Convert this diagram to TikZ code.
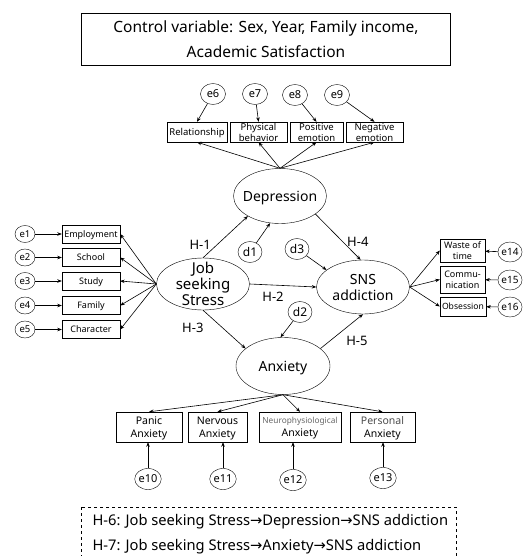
\documentclass[tikz,border=0pt]{standalone}
\usepackage{fontspec}
\setmainfont{Noto Sans}
\newfontfamily\arrowfont{DejaVu Sans}
\usetikzlibrary{shapes.geometric,arrows.meta}

\begin{document}
\begin{tikzpicture}[
            x = 1pt, y = -1pt,
            every node/.style={text depth=0pt},
            latent/.style={ellipse, draw, inner sep=0pt, minimum width=93pt, minimum height=55pt},
            lbl/.style={align=center, font=\fontsize{14}{16}\selectfont},
            obs/.style={rectangle, draw, inner sep=0pt, minimum height=20pt, align=center, font=\fontsize{9.5}{11}\selectfont},
            err/.style={ellipse, draw, inner sep=0pt, minimum width=25pt, minimum height=21pt, font=\fontsize{11}{11}\selectfont},
            line/.style={line width=.6pt, -{Stealth[length=4.5pt, width=3.5pt]}},
            hyp/.style={font=\fontsize{13}{13}\selectfont},
            ]

        \useasboundingbox (0,0) rectangle (526,556);

        \node[draw, minimum width=369pt, minimum height=52pt, align=center, font=\fontsize{15.5}{25}\selectfont] (ctrl) at (266,39) {Control variable: Sex, Year, Family income,\\Academic Satisfaction};

        % latent variables
        \node[latent, label={[lbl]center:Depression}] (dep) at (280,196) {};
        \node[latent, minimum height=52pt, label={[lbl, font=\fontsize{15}{16}\selectfont]center:Job\\seeking\\Stress}] (jss) at (203,284) {};
        \node[latent, minimum height=54pt, label={[lbl]center:SNS\\addiction}] (sns) at (363,287) {};
        \node[latent, minimum width=94pt, minimum height=57pt, label={[lbl]center:Anxiety}] (anx) at (283,366) {};

        \node[err, minimum width=24pt, font=\fontsize{12}{12}\selectfont] (d1) at (250,252) {d1};
        \node[err, minimum width=24pt, font=\fontsize{12}{12}\selectfont] (d2) at (300,312) {d2};
        \node[err, minimum width=24pt, font=\fontsize{12}{12}\selectfont] (d3) at (297,249) {d3};

        % depression
        \node[obs, minimum width=60pt] (rel) at (197,132) {Relationship};
        \node[obs, minimum width=57pt] (phys) at (258.5,132) {Physical\\behavior};
        \node[obs, minimum width=53pt] (pos) at (316.5,132) {Positive\\emotion};
        \node[obs, minimum width=57pt] (neg) at (374.5,132) {Negative\\emotion};
        \node[err] (e6) at (213,94) {e6};
        \node[err] (e7) at (255,94) {e7};
        \node[err] (e8) at (295,95) {e8};
        \node[err] (e9) at (337,95) {e9};

        % job seeking stress
        \node[obs, minimum width=58pt, minimum height=18pt, font=\fontsize{9}{11}\selectfont] (emp) at (91,234) {Employment};
        \node[obs, minimum width=58pt, minimum height=18pt, font=\fontsize{9}{11}\selectfont] (sch) at (91,257.5) {School};
        \node[obs, minimum width=58pt, minimum height=18pt, font=\fontsize{9}{11}\selectfont] (stu) at (91,281) {Study};
        \node[obs, minimum width=58pt, minimum height=18pt, font=\fontsize{9}{11}\selectfont] (fam) at (91,305.5) {Family};
        \node[obs, minimum width=58pt, minimum height=18pt, font=\fontsize{9}{11}\selectfont] (cha) at (91,329.5) {Character};
        \node[err, minimum width=20pt, minimum height=17pt, font=\fontsize{9.5}{10}\selectfont] (e1) at (25,234) {e1};
        \node[err, minimum width=20pt, minimum height=17pt, font=\fontsize{9.5}{10}\selectfont] (e2) at (25,257.5) {e2};
        \node[err, minimum width=20pt, minimum height=17pt, font=\fontsize{9.5}{10}\selectfont] (e3) at (25,281) {e3};
        \node[err, minimum width=20pt, minimum height=17pt, font=\fontsize{9.5}{10}\selectfont] (e4) at (25,305.5) {e4};
        \node[err, minimum width=20pt, minimum height=17pt, font=\fontsize{9.5}{10}\selectfont] (e5) at (25,329.5) {e5};

        % sns addiction
        \node[obs, minimum width=45pt, minimum height=23pt, font=\fontsize{9}{11}\selectfont] (waste) at (462.5,250.5) {Waste of\\time};
        \node[obs, minimum width=45pt, minimum height=27pt, font=\fontsize{9}{11}\selectfont] (comm) at (462.5,279.5) {Commu-\\nication};
        \node[obs, minimum width=46pt, minimum height=19pt, font=\fontsize{8.6}{11}\selectfont] (obs) at (463,306.5) {Obsession};
        \node[err, minimum width=22pt, minimum height=20pt, font=\fontsize{10}{10}\selectfont] (e14) at (510,252) {e14};
        \node[err, minimum width=22pt, minimum height=20pt, font=\fontsize{10}{10}\selectfont] (e15) at (510,280) {e15};
        \node[err, minimum width=22pt, minimum height=20pt, font=\fontsize{10}{10}\selectfont] (e16) at (510,307) {e16};

        % anxiety
        \node[obs, minimum width=66pt, minimum height=30pt, font=\fontsize{10.5}{12.5}\selectfont] (pan) at (149,427) {Panic\\Anxiety};
        \node[obs, minimum width=59pt, minimum height=30pt, font=\fontsize{10.5}{12.5}\selectfont] (ner) at (217.5,427) {Nervous\\Anxiety};
        \node[obs, minimum width=82pt, minimum height=30pt, font=\fontsize{10.5}{12.5}\selectfont] (neu) at (300,427) {{\color{black!60}\fontsize{8.3}{12.5}\selectfont Neurophysiological}\\Anxiety};
        \node[obs, minimum width=65pt, minimum height=30pt, font=\fontsize{10.5}{12.5}\selectfont] (per) at (382.5,427) {{\color{black!70}Personal}\\Anxiety};
        \node[err] (e10) at (148,479) {e10};
        \node[err] (e11) at (223,479) {e11};
        \node[err] (e12) at (293,480) {e12};
        \node[err] (e13) at (383,478) {e13};

        \draw[line] (e6) -- (rel.north);
        \draw[line] (e7) -- (phys.north);
        \draw[line] (e8) -- (pos.north);
        \draw[line] (e9) -- (neg.north);
        \draw[line] (dep.north) -- (rel.south);
        \draw[line] (dep.north) -- (phys.south);
        \draw[line] (dep.north) -- (pos.south);
        \draw[line] (dep.north) -- (neg.south);

        \draw[line] (e1) -- (emp);
        \draw[line] (e2) -- (sch);
        \draw[line] (e3) -- (stu);
        \draw[line] (e4) -- (fam);
        \draw[line] (e5) -- (cha);
        \draw[line] (jss.west) -- (emp.east);
        \draw[line] (jss.west) -- (sch.east);
        \draw[line] (jss.west) -- (stu.east);
        \draw[line] (jss.west) -- (fam.east);
        \draw[line] (jss.west) -- (cha.east);

        \draw[line] (sns.east) -- (waste.west);
        \draw[line] (sns.east) -- (comm.west);
        \draw[line] (sns.east) -- (obs.west);
        \draw[line] (e14) -- (waste);
        \draw[line] (e15) -- (comm);
        \draw[line] (e16) -- (obs);

        \draw[line] (anx.south) -- (pan.north);
        \draw[line] (anx.south) -- (ner.north);
        \draw[line] (anx.south) -- (neu.north);
        \draw[line] (anx.south) -- (per.north);
        \draw[line] (e10) -- (e10 |- pan.south);
        \draw[line] (e11) -- (e11 |- ner.south);
        \draw[line] (e12) -- (e12 |- neu.south);
        \draw[line] (e13) -- (e13 |- per.south);

        % hypotheses
        \draw[line] (jss.north) -- node[hyp, pos=.3, left=2pt] (h1) {H-1} (dep.212);
        \draw[line] (jss.east) -- node[hyp, pos=.35, below=3pt] (h2) {H-2} (sns.west);
        \draw[line] (jss.south) -- node[hyp, pos=.05, left=-2pt, yshift=-16pt] (h3) {H-3} (anx.155);
        \draw[line] (dep.333) -- node[hyp, pos=.6, right=1pt] (h4) {H-4} (sns.95);
        \draw[line] (anx.25) -- node[hyp, pos=.5, below right=1pt] (h5) {H-5} (sns.south);
        \draw[line] (d1) -- (dep.250);
        \draw[line] (d2) -- (anx.95);
        \draw[line] (d3) -- (sns.155);

        \draw[dashed] (81,507) rectangle (456,575);
        \node[anchor=west, font=\fontsize{14.7}{16}\selectfont] (h6) at (89,520) {H-6: Job seeking Stress{\arrowfont →}Depression{\arrowfont →}SNS addiction};
        \node[anchor=west, font=\fontsize{14.7}{16}\selectfont] (h7) at (89,545) {H-7: Job seeking Stress{\arrowfont →}Anxiety{\arrowfont →}SNS addiction};
    \end{tikzpicture}
\end{document}
